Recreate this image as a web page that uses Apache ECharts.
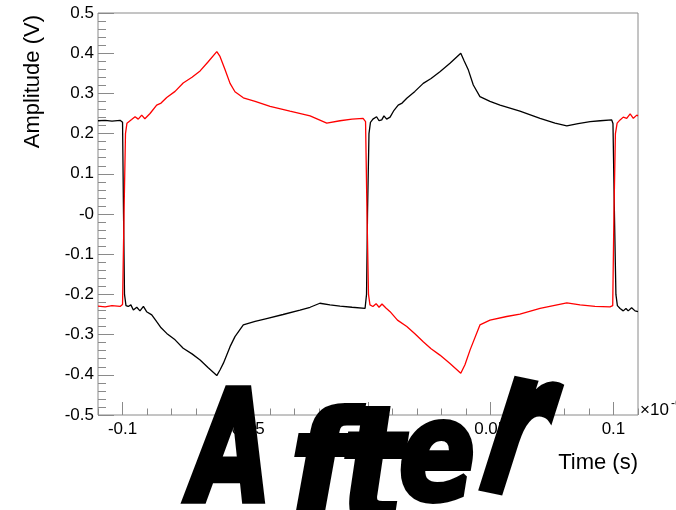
<!DOCTYPE html>
<html>
<head>
<meta charset="utf-8">
<script src="https://cdn.jsdelivr.net/npm/echarts@6/dist/echarts.min.js"></script>
<style>
  html, body { margin: 0; padding: 0; background: #fff; }
  #chart { width: 676px; height: 510px; }
</style>
</head>
<body>
<div id="chart"></div>
<script>
// time axis (x10^-6 s) and amplitude (V)
const blackTime = [-0.1100, -0.1071, -0.1043, -0.1010, -0.1000, -0.0996, -0.0992, -0.0986, -0.0977, -0.0966,
  -0.0956, -0.0942, -0.0929, -0.0915, -0.0902, -0.0881, -0.0861, -0.0843, -0.0820, -0.0786,
  -0.0753, -0.0717, -0.0684, -0.0652, -0.0616, -0.0603, -0.0589, -0.0562, -0.0542, -0.0508,
  -0.0460, -0.0413, -0.0346, -0.0277, -0.0236, -0.0196, -0.0155, -0.0114, -0.0065, -0.0012,
  -0.0006, -0.0002, 0.0004, 0.0010, 0.0020, 0.0035, 0.0045, 0.0056, 0.0065, 0.0076,
  0.0090, 0.0106, 0.0123, 0.0139, 0.0158, 0.0191, 0.0225, 0.0257, 0.0293, 0.0334,
  0.0378, 0.0391, 0.0409, 0.0429, 0.0456, 0.0497, 0.0538, 0.0619, 0.0701, 0.0762,
  0.0810, 0.0856, 0.0905, 0.0946, 0.0993, 0.0998, 0.1004, 0.1010, 0.1016, 0.1027,
  0.1040, 0.1051, 0.1060, 0.1074, 0.1088, 0.1100]
const blackAmp = [0.232, 0.233, 0.231, 0.233, 0.228, 0.0, -0.200, -0.228, -0.230, -0.226,
  -0.239, -0.232, -0.241, -0.230, -0.243, -0.251, -0.268, -0.283, -0.297, -0.313,
  -0.334, -0.348, -0.363, -0.382, -0.402, -0.388, -0.371, -0.330, -0.305, -0.276,
  -0.267, -0.260, -0.250, -0.239, -0.232, -0.222, -0.226, -0.229, -0.232, -0.235,
  -0.200, 0.0, 0.200, 0.228, 0.236, 0.242, 0.232, 0.234, 0.244, 0.236,
  0.241, 0.258, 0.271, 0.276, 0.288, 0.305, 0.325, 0.337, 0.354, 0.375,
  0.400, 0.382, 0.358, 0.321, 0.292, 0.280, 0.271, 0.256, 0.238, 0.226,
  0.219, 0.225, 0.230, 0.232, 0.234, 0.225, 0.0, -0.200, -0.228, -0.235,
  -0.241, -0.235, -0.241, -0.233, -0.241, -0.243]

const redTime = [-0.1100, -0.1071, -0.1043, -0.1010, -0.1000, -0.0994, -0.0988, -0.0982, -0.0977, -0.0963,
  -0.0949, -0.0936, -0.0922, -0.0909, -0.0888, -0.0861, -0.0843, -0.0820, -0.0786, -0.0753,
  -0.0717, -0.0684, -0.0652, -0.0616, -0.0603, -0.0583, -0.0562, -0.0542, -0.0508, -0.0460,
  -0.0399, -0.0318, -0.0236, -0.0168, -0.0114, -0.0065, -0.0020, -0.0010, -0.0004, 0.0002,
  0.0008, 0.0020, 0.0033, 0.0045, 0.0057, 0.0073, 0.0090, 0.0120, 0.0158, 0.0191,
  0.0225, 0.0257, 0.0293, 0.0334, 0.0378, 0.0395, 0.0416, 0.0456, 0.0497, 0.0565,
  0.0619, 0.0701, 0.0810, 0.0864, 0.0925, 0.0986, 0.0997, 0.1002, 0.1008, 0.1015,
  0.1027, 0.1040, 0.1054, 0.1068, 0.1081, 0.1095, 0.1100]
const redAmp = [-0.229, -0.231, -0.228, -0.230, -0.225, 0.0, 0.200, 0.226, 0.230, 0.235,
  0.242, 0.236, 0.246, 0.237, 0.250, 0.271, 0.276, 0.290, 0.305, 0.326,
  0.340, 0.356, 0.378, 0.404, 0.392, 0.360, 0.325, 0.304, 0.289, 0.280,
  0.268, 0.256, 0.244, 0.226, 0.232, 0.236, 0.238, 0.230, 0.0, -0.200,
  -0.226, -0.230, -0.223, -0.232, -0.224, -0.234, -0.243, -0.264, -0.280, -0.298,
  -0.318, -0.335, -0.351, -0.372, -0.396, -0.375, -0.338, -0.276, -0.264, -0.255,
  -0.249, -0.235, -0.221, -0.226, -0.230, -0.231, -0.228, 0.0, 0.200, 0.226,
  0.234, 0.241, 0.238, 0.249, 0.238, 0.246, 0.244]

const xLabels = [-0.1, -0.05, 0, 0.05, 0.1]

const FONT = '"Liberation Sans", Arial, sans-serif'
const FRAME = '#8a8a8a'

const chart = echarts.init(document.getElementById('chart'))

const pairs = (xs, ys) => xs.map((x, i) => [x, ys[i]])

// the big warped "After" stamp, letter by letter
const stamp = [
  { ch: 'A', x: 231, y: 460, sx: 0.74, sy: 1.1, rot: 0 },
  { ch: 'f', x: 320, y: 478, sx: 0.95, sy: 1.02, rot: 0 },
  { ch: 't', x: 372, y: 482, sx: 0.9, sy: 1.17, rot: 0 },
  { ch: 'e', x: 437, y: 463, sx: 0.8, sy: 0.98, rot: 0 },
  { ch: 'r', x: 516, y: 440, sx: 0.8, sy: 1.45, rot: -0.2 },
]

const option = {
  animation: false,
  backgroundColor: '#fff',
  grid: {
    left: 98,
    right: 38,
    top: 13,
    bottom: 95,
    show: true,
    borderColor: FRAME,
    borderWidth: 1,
  },
  xAxis: [
    {
      type: 'value',
      min: -0.11,
      max: 0.11,
      interval: 0.01,
      axisLine: { show: false, onZero: false },
      splitLine: { show: false },
      axisTick: { inside: true, length: 6.5, lineStyle: { color: FRAME } },
      axisLabel: {
        customValues: xLabels,
        margin: 6,
        color: '#000',
        fontSize: 17,
        fontFamily: FONT,
        formatter: (v) => (Math.abs(v) < 1e-9 ? '0' : String(Math.round(v * 100) / 100)),
      },
    },
    {
      type: 'value',
      position: 'bottom',
      min: -0.11,
      max: 0.11,
      interval: 0.01,
      axisLine: { show: false, onZero: false },
      splitLine: { show: false },
      axisLabel: { show: false },
      axisTick: { inside: true, length: 13, customValues: xLabels, lineStyle: { color: FRAME } },
    },
  ],
  yAxis: {
    type: 'value',
    min: -0.5,
    max: 0.5,
    interval: 0.1,
    axisLine: { show: false, onZero: false },
    splitLine: { show: false },
    axisTick: { inside: true, length: 16, lineStyle: { color: FRAME } },
    minorTick: { show: true, splitNumber: 5, length: 8, lineStyle: { color: FRAME } },
    minorSplitLine: { show: false },
    axisLabel: {
      margin: 4,
      color: '#000',
      fontSize: 17,
      fontFamily: FONT,
      formatter: (v) => (Math.abs(v) < 1e-9 ? '-0' : String(Math.round(v * 10) / 10)),
    },
  },
  series: [
    {
      name: 'ch1',
      type: 'line',
      showSymbol: false,
      data: pairs(blackTime, blackAmp),
      lineStyle: { color: '#000', width: 1.3 },
      z: 2,
    },
    {
      name: 'ch2',
      type: 'line',
      showSymbol: false,
      data: pairs(redTime, redAmp),
      lineStyle: { color: '#ff0000', width: 1.3 },
      z: 3,
    },
  ],
  graphic: [
    {
      type: 'text',
      x: 33,
      y: 15,
      rotation: Math.PI / 2,
      style: { text: 'Amplitude (V)', font: '22px ' + FONT, fill: '#000', textAlign: 'right', textVerticalAlign: 'middle' },
    },
    {
      type: 'text',
      x: 638,
      y: 463,
      style: { text: 'Time (s)', font: '22px ' + FONT, fill: '#000', textAlign: 'right', textVerticalAlign: 'middle' },
    },
    {
      type: 'text',
      x: 640,
      y: 410,
      style: { text: '×10', font: '17px ' + FONT, fill: '#000', textAlign: 'left', textVerticalAlign: 'middle' },
    },
    {
      type: 'text',
      x: 671,
      y: 404,
      style: { text: '-6', font: '12px ' + FONT, fill: '#000', textAlign: 'left', textVerticalAlign: 'middle' },
    },
    ...stamp.map((s) => ({
      type: 'text',
      x: s.x,
      y: s.y,
      scaleX: s.sx,
      scaleY: s.sy,
      rotation: s.rot,
      z: 100,
      style: {
        text: s.ch,
        font: 'italic bold 140px "DejaVu Sans"',
        fill: '#000',
        stroke: '#000',
        lineWidth: 6,
        lineJoin: 'round',
        textAlign: 'center',
        textVerticalAlign: 'middle',
      },
    })),
  ],
}

chart.setOption(option)

window.addEventListener('resize', () => chart.resize())
</script>
</body>
</html>
